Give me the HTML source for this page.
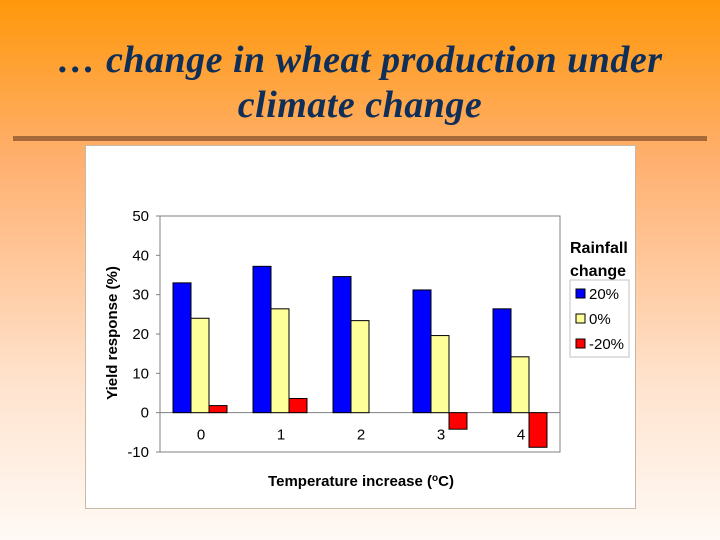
<!DOCTYPE html>
<html><head><meta charset="utf-8"><style>
body{margin:0;width:720px;height:540px;overflow:hidden;background:linear-gradient(#ff980a 0%,#ffb070 30%,#ffe2cc 70%,#fffaf6 100%);font-family:"Liberation Sans",sans-serif;position:relative}
#title{position:absolute;left:0;top:38px;width:720px;text-align:center;font-family:"Liberation Serif",serif;font-style:italic;font-weight:bold;font-size:38px;line-height:45px;color:#0f2f58;letter-spacing:0.5px}
#rule{position:absolute;left:13px;top:136px;width:694px;height:5px;background:#a5693a}
#panel{position:absolute;left:85px;top:145px;width:549px;height:362px;background:#fff;border:1px solid #c8b8a8}
svg{position:absolute;left:0;top:0}
</style></head><body>
<div id="title">… change in wheat production under<br>climate change</div>
<div id="rule"></div>
<div id="panel"></div>
<svg id="chart" width="720" height="540"></svg>
<script>
const categories=["0","1","2","3","4"];
const series20=[33,37.2,34.6,31.2,26.4];
const series0=[24,26.4,23.4,19.6,14.2];
const seriesM20=[1.8,3.6,0,-4.2,-8.8];
const yTicks=[-10,0,10,20,30,40,50];
const seriesNames=["20%","0%","-20%"];
const colors=["#0000ff","#ffff99","#ff0000"];
const NS="http://www.w3.org/2000/svg";
const svg=document.getElementById('chart');
const L=160,R=560,T=216,B=452,ymin=-10,ymax=50;
const y=v=>B-(v-ymin)/(ymax-ymin)*(B-T);
const gw=(R-L)/categories.length;
const xc=i=>L+gw*(i+0.5);
function mk(tag,attrs,txt){const e=document.createElementNS(NS,tag);for(const k in attrs)e.setAttribute(k,attrs[k]);if(txt!==undefined)e.textContent=txt;svg.appendChild(e);return e;}
let e=mk('rect',{x:L,y:T,width:R-L,height:B-T,fill:'#fff',stroke:'#808080','stroke-width':1});


yTicks.forEach(t=>{
 let tl=mk('text',{x:L-11,y:y(t)+5,'text-anchor':'end','font-size':15,fill:'#000'},t);
 
 
 let tk=mk('line',{x1:L-4,x2:L,y1:y(t),y2:y(t),stroke:'#808080'});
 
 
});
let zl=mk('line',{x1:L,x2:R,y1:y(0),y2:y(0),stroke:'#808080'});


const all=[series20,series0,seriesM20];
const bw=18;
categories.forEach((c,i)=>{
 all.forEach((s,k)=>{
  const v=s[i];const x0=xc(i)-27+k*bw;
  const y1=Math.min(y(v),y(0)),h=Math.abs(y(v)-y(0));
  let b=mk('rect',{x:x0,y:y1,width:bw,height:h,fill:colors[k],stroke:'#000','stroke-width':1});
  
  
 });
 let cl=mk('text',{x:xc(i)+1,y:y(0)+27,'text-anchor':'middle','font-size':15},c);
 
 
});
let xt=mk('text',{x:361,y:486,'text-anchor':'middle','font-size':15,'font-weight':'bold'});
xt.innerHTML='Temperature increase (<tspan baseline-shift="super" font-size="10">o</tspan>C)';


let yt=mk('text',{x:0,y:0,'text-anchor':'middle','font-size':15,'font-weight':'bold',transform:'translate(117,333) rotate(-90)'},'Yield response (%)');


let lt1=mk('text',{x:570,y:253,'font-size':16,'font-weight':'bold'},'Rainfall');


let lt2=mk('text',{x:570,y:276,'font-size':16,'font-weight':'bold'},'change');


let lb=mk('rect',{x:570,y:280,width:59,height:77,fill:'#fff',stroke:'#c0c0c0'});


seriesNames.forEach((n,k)=>{
 let sw=mk('rect',{x:576,y:289+k*25,width:9,height:9,fill:colors[k],stroke:'#000'});
 
 
 let lx=mk('text',{x:589,y:299+k*25,'font-size':15},n);
 
 
});
</script>
</body></html>
